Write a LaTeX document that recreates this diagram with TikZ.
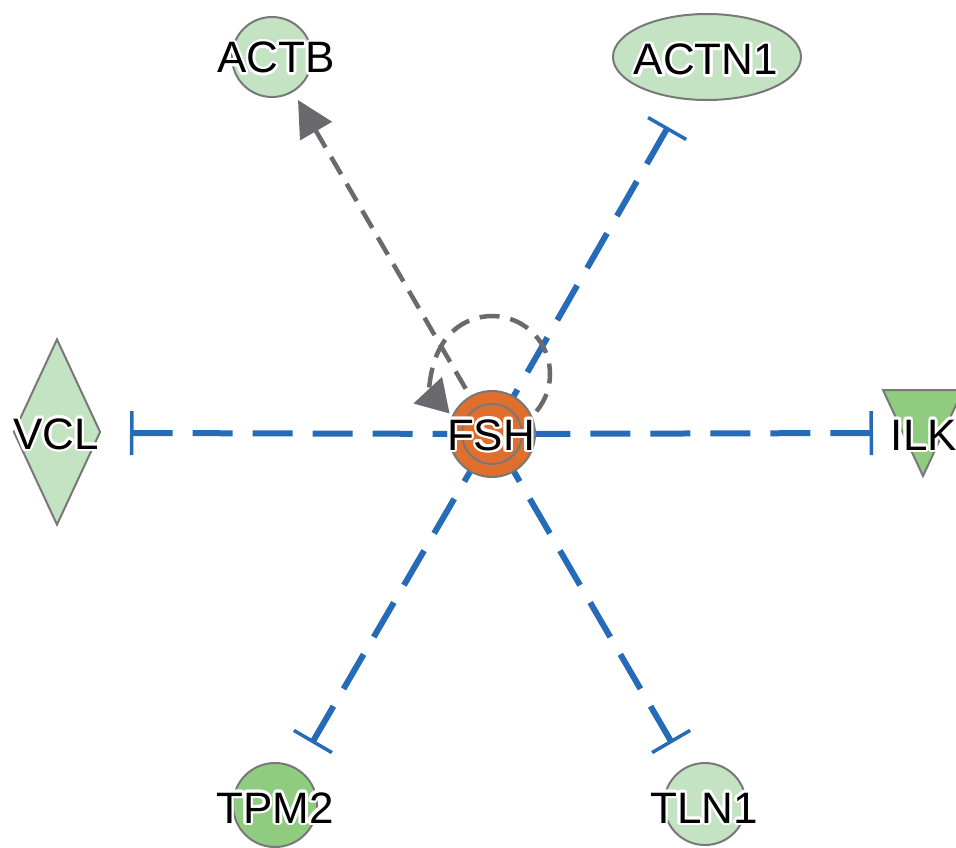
\documentclass[tikz,border=0pt]{standalone}
\usepackage{fontspec}
\setmainfont{Liberation Sans}
\usetikzlibrary{arrows.meta,shapes.geometric,calc}
\definecolor{lgreen}{RGB}{196,227,194}
\definecolor{dgreen}{RGB}{143,204,128}
\definecolor{fshorange}{RGB}{224,110,45}
\definecolor{nodegray}{RGB}{120,120,120}
\definecolor{inhblue}{RGB}{38,107,184}
\definecolor{linegray}{RGB}{105,105,110}
\tikzset{
  gene/.style={draw=nodegray, line width=2pt, inner sep=0pt},
  lbl/.style={font=\fontsize{44}{44}\selectfont, anchor=base, inner sep=0pt},
  inhib/.style={draw=inhblue, line width=6pt, dash pattern=on 40pt off 20pt,
    {Bar[width=44pt,line width=3.5pt]}-},
  actline/.style={draw=linegray, line width=4.5pt, dash pattern=on 20pt off 11pt},
}
\newcommand\halolabel[3]{%
  \foreach \ang in {0,30,...,330}{\node[lbl,text=white] at ($(#2)+(\ang:2.6pt)$) {#3};}
  \node[lbl] (#1) at (#2) {#3};}
\begin{document}
\begin{tikzpicture}[x=1pt,y=-1pt]
\useasboundingbox (0,0) rectangle (956,848);
% gene shapes
\node[gene, circle, fill=lgreen, minimum size=80pt] (actb) at (272,57) {};
\node[gene, ellipse, fill=lgreen, minimum width=188pt, minimum height=86pt] (actn1) at (707,57) {};
\node[gene, diamond, fill=lgreen, minimum width=87pt, minimum height=186pt] (vcl) at (57,432) {};
\coordinate (ilkc) at (923,418);
\draw[gene, fill=dgreen] (883,390) -- (963,390) -- (923,476) -- cycle;
\node[gene, circle, fill=dgreen, minimum size=84pt] (tpm2) at (275,805) {};
\node[gene, circle, fill=lgreen, minimum size=82pt] (tln1) at (705,804) {};
% FSH position
\coordinate (fshc) at (492,434);
% bar end points
\coordinate (tACTN) at (668,127);
\coordinate (tVCL) at (130,433);
\coordinate (tILK) at (873,433);
\coordinate (tTPM) at (312,743);
\coordinate (tTLN) at (672,743);
\draw[inhib] (tACTN) -- (fshc);
\draw[inhib] (tVCL) -- (fshc);
\draw[inhib] (tILK) -- (fshc);
\draw[inhib] (tTPM) -- (fshc);
\draw[inhib] (tTLN) -- (fshc);
% FSH -> ACTB
\coordinate (actbtip) at (298,100);
\draw[actline, {Triangle[length=36pt,width=36pt]}-] (actbtip) -- (fshc);
% FSH node
\node[gene, circle, fill=fshorange, minimum size=86pt] (fsh) at (fshc) {};
\draw[nodegray, line width=2pt] (fsh.center) circle[radius=30pt];
% self loop
\coordinate (lc) at (492,374);
\draw[actline, -{Triangle[length=32pt,width=38pt]}] ($(lc)+(-40:58pt)$) arc[start angle=-40, end angle=223, radius=58pt];
% labels
\halolabel{lACTB}{276,73}{ACTB}
\halolabel{lACTN1}{706,75}{ACTN1}
\halolabel{lVCL}{56,449}{VCL}
\halolabel{lFSH}{491,450}{FSH}
\halolabel{lILK}{924,450}{ILK}
\halolabel{lTPM2}{275,823}{TPM2}
\halolabel{lTLN1}{704,823}{TLN1}
\end{tikzpicture}
\end{document}
